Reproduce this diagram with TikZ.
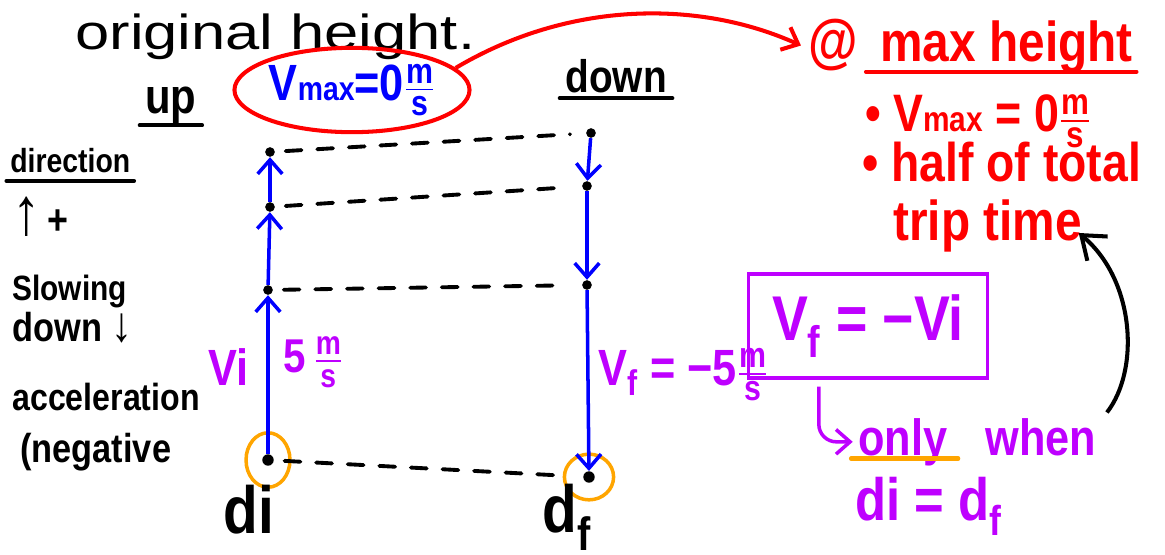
\documentclass[tikz,border=0pt]{standalone}
\usepackage{amsmath}
\usepackage{fontspec}
\setmainfont{Liberation Sans}
\newfontfamily\handfont[FakeStretch=0.85]{Liberation Sans}
\newfontfamily\slidefont[FakeStretch=1.25]{Liberation Sans}
\usetikzlibrary{positioning,arrows.meta,shapes.geometric}

\definecolor{inkred}{RGB}{255,0,0}
\definecolor{inkblue}{RGB}{0,0,255}
\definecolor{inkviolet}{RGB}{190,0,255}
\definecolor{inkorange}{RGB}{255,165,0}

\newcommand{\perms}{\ensuremath{\frac{\text{m}}{\text{s}}}}
\newcommand{\lowtxt}[2]{{\fontsize{#1}{#1}\selectfont #2}}

\begin{document}
\begin{tikzpicture}[x=0.02cm, y=-0.02cm, >={Straight Barb[length=8pt,width=14pt]},
  hand/.style={font=\handfont\bfseries\fontsize{#1}{#1}\selectfont, inner sep=0pt, anchor=base west},
  dotnode/.style={circle, fill=black, inner sep=0pt, minimum size=5.5pt},
  vel/.style={inkblue, line width=2pt, ->},
  guide/.style={line width=2.2pt, dash pattern=on 9pt off 9pt, line cap=round, shorten <=6pt, shorten >=9pt},
  ring/.style={draw=inkorange, line width=2pt, ellipse, inner sep=0pt},
  uline/.style={line width=2.3pt, line cap=round}]
\useasboundingbox (0,0) rectangle (1165,554);

% slide text
\node[font=\slidefont\fontsize{28}{28}\selectfont, inner sep=0pt, anchor=base west] (slide) at (75,50) {original height.};

% column heads
\node[hand=28] (up) at (145,113) {up};
\node[hand=26] (down) at (565,92) {down};
\draw[uline] ([shift={(-3pt,-7pt)}]up.base west) -- ([shift={(3pt,-7pt)}]up.base east);
\draw[uline] ([shift={(-3pt,-3.5pt)}]down.base west) -- ([shift={(3pt,-3.5pt)}]down.base east);

% left notes
\node[hand=19] (dirn) at (10,172) {direction};
\draw[uline] ([shift={(-2pt,-5pt)}]dirn.base west) -- ([shift={(2pt,-5pt)}]dirn.base east);
\node[hand=24] (plus) at (12,234) {\lowtxt{38}{↑}\,+};
\node[hand=20] (slow) at (12,300) {Slowing};
\node[hand=23] (slowdn) at (12,341) {down \lowtxt{28}{↓}};
\node[hand=21.5] (acc) at (12,410) {acceleration};
\node[hand=23] (neg) at (20,462) {(negative};

% points on the way up and down
\node[dotnode] (u1) at (270,152) {};
\node[dotnode] (u2) at (270,207) {};
\node[dotnode] (u3) at (268,290) {};
\node[dotnode, minimum size=6.5pt] (ub) at (268,460) {};
\node[dotnode] (d1) at (591,133) {};
\node[dotnode] (d2) at (587,186) {};
\node[dotnode] (d3) at (587,285) {};
\node[dotnode, minimum size=6.5pt] (db) at (589,477) {};
\node[ring, minimum width=25pt, minimum height=31pt] (ringi) at (ub) {};
\node[ring, minimum width=28pt, minimum height=26pt] (ringf) at (db) {};

\draw[vel] (ub) -- (u3);
\draw[vel] (u3) -- (u2);
\draw[vel] (u2) -- (u1);
\draw[vel] (d1) -- (d2);
\draw[vel] (d2) -- (d3);
\draw[vel] (d3) -- (db);

\draw[guide] (u1) -- (d1);
\draw[guide] (u2) -- (d2);
\draw[guide] (u3) -- (d3);
\draw[guide] (ub) -- (db);

% labels on the columns
\node[hand=29, text=inkviolet] (vi) at (208,385) {Vi};
\node[hand=27, text=inkviolet] (vfive) at (283,372) {5\,\perms};
\node[hand=29, text=inkviolet] (vfneg) at (598,385) {V\textsubscript{f} = −5\perms};
\node[hand=38] (di) at (223,533) {di};
\node[hand=38] (df) at (542,532) {d\textsubscript{f}};

% top of the trip
\node[ellipse, draw=inkred, line width=2.3pt, minimum width=125pt, minimum height=48pt, inner sep=0pt,
  text=inkblue, font=\handfont\bfseries\fontsize{29}{29}\selectfont] (vtop) at (352,90) {V\lowtxt{19}{max}=0\perms};
\node[hand=34, text=inkred] (atsign) at (808,62) {@};
\node[hand=32, text=inkred] (maxh) at (880,62) {max height};
\draw[uline, inkred] ([shift={(-8pt,-5.5pt)}]maxh.base west) -- ([shift={(2pt,-5.5pt)}]maxh.base east);
\draw[inkred, line width=2.3pt, ->] (vtop.12) .. controls (570,0) and (700,0) .. ([xshift=-4pt]atsign.west);
\node[hand=30, text=inkred] (pta) at (865,132) {• V\lowtxt{20}{max} = 0\perms};
\node[hand=31, text=inkred] (ptb) at (862,181) {• half of total};
\node[hand=32, text=inkred] (trip) at (893,240) {trip time};

% the rule in the box
\node[draw=inkviolet, line width=2pt, minimum width=136pt, minimum height=59pt, text=inkviolet,
  font=\handfont\bfseries\fontsize{36}{36}\selectfont] (vbox) at (868,326) {V\textsubscript{f} = −Vi};
\node[hand=29, text=inkviolet] (only) at (858,455) {only};
\node[hand=29, text=inkviolet] (when) at (985,455) {when};
\node[hand=34, text=inkviolet] (dieq) at (855,520) {di = d\textsubscript{f}};
\draw[uline, inkorange] ([shift={(-4pt,-2pt)}]only.base west) -- ([shift={(6pt,-2pt)}]only.base east);
\draw[inkviolet, line width=2pt, ->, rounded corners=10pt] ([shift={(-28pt,-4pt)}]vbox.south) |- ([xshift=-3pt]only.west);
\draw[line width=2.3pt, -{Straight Barb[length=12pt,width=18pt]}] ([shift={(6pt,3pt)}]when.north east)
  .. controls (1140,370) and (1135,280) .. ([shift={(-2pt,4pt)}]trip.base east);
\end{tikzpicture}
\end{document}
